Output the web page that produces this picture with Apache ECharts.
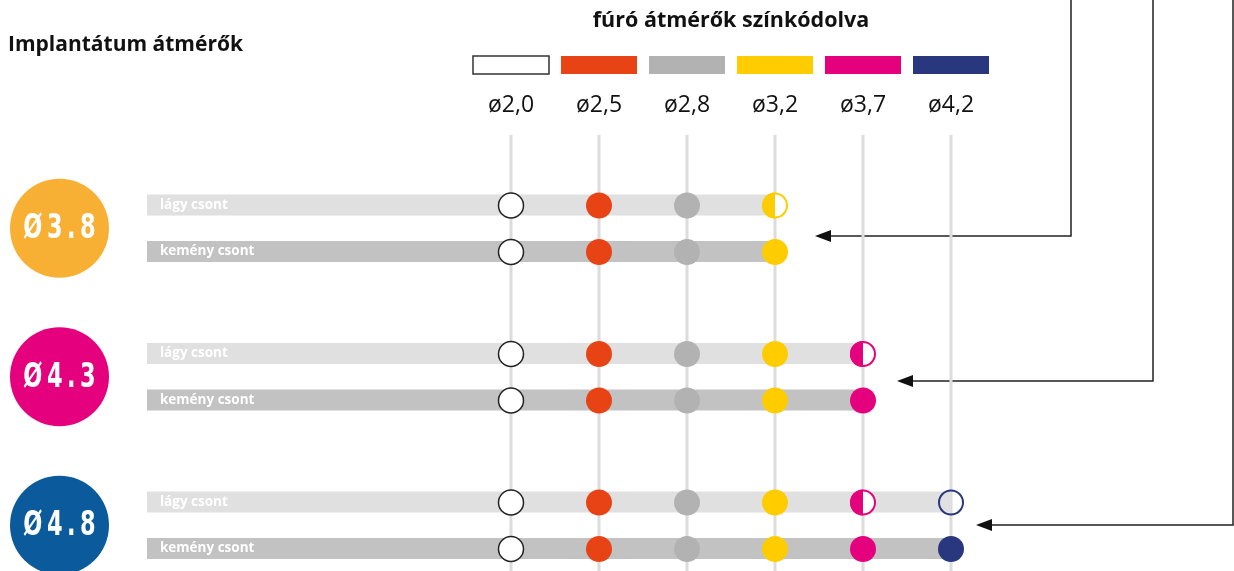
<!DOCTYPE html>
<html>
<head>
<meta charset="utf-8">
<script src="https://cdn.jsdelivr.net/npm/echarts@6/dist/echarts.min.js"></script>
<style>
  html, body { margin: 0; padding: 0; background: #fff; }
  #chart { width: 1234px; height: 571px; }
</style>
</head>
<body>
<div id="chart"></div>
<script>
// drill diameters (colour coded) and implant diameters
const drills = ['ø2,0', 'ø2,5', 'ø2,8', 'ø3,2', 'ø3,7', 'ø4,2']
const drillColors = ['#ffffff', '#E84314', '#B2B2B2', '#FFCC00', '#E5007D', '#29377F']
const implants = ['Ø3.8', 'Ø4.3', 'Ø4.8']
const implantColors = ['#F7B033', '#E5007D', '#0A5A9C']
const boneTypes = ['lágy csont', 'kemény csont']
// drill sequence per implant / bone type: f = full, h = half, r = ring only
const steps = [
  ['f', 'f', 'f', 'h'],
  ['f', 'f', 'f', 'f'],
  ['f', 'f', 'f', 'f', 'h'],
  ['f', 'f', 'f', 'f', 'f'],
  ['f', 'f', 'f', 'f', 'h', 'r'],
  ['f', 'f', 'f', 'f', 'f', 'f'],
]

// layout (grid must stay inside the canvas, echarts clamps it)
const COL0 = 511
const COL_W = 88
const ROW0 = 205
const GROUP_H = 148.5
const SUB_H = 46.5
const X_MIN = -5.75
const X_MAX = 8
const Y_MIN = -1.25
const Y_MAX = 2.4
const BAR_START = (147 - COL0) / COL_W
const BADGE_X = (59.5 - COL0) / COL_W
const subOffset = SUB_H / GROUP_H

const rowY = (g, s) => g + s * subOffset

const barData = []
const dotData = []
steps.forEach((row, r) => {
  const g = Math.floor(r / 2)
  const s = r % 2
  barData.push([row.length - 1, rowY(g, s), s])
  row.forEach((kind, i) => {
    dotData.push([i, rowY(g, s), kind])
  })
})

const chart = echarts.init(document.getElementById('chart'))

const graphic = [
  {
    type: 'text',
    left: 8,
    top: 35,
    style: {
      text: 'Implantátum átmérők',
      font: 'bold 21px "Open Sans", sans-serif',
      fill: '#111',
    },
  },
  {
    type: 'text',
    x: 731,
    y: 21,
    style: {
      text: 'fúró átmérők színkódolva',
      font: 'bold 21.5px "Open Sans", sans-serif',
      fill: '#111',
      align: 'center',
      verticalAlign: 'middle',
    },
  },
]

drills.forEach((d, i) => {
  const cx = COL0 + COL_W * i
  graphic.push({
    type: 'rect',
    shape: { x: cx - 38, y: 56, width: 76, height: 18 },
    style: {
      fill: drillColors[i],
      stroke: i === 0 ? '#333' : null,
      lineWidth: i === 0 ? 1.5 : 0,
    },
  })
  graphic.push({
    type: 'text',
    x: cx,
    y: 105,
    style: {
      text: d,
      font: '23px "Open Sans", sans-serif',
      fill: '#111',
      align: 'center',
      verticalAlign: 'middle',
    },
  })
})

// connector arrows on the right
const arrows = [
  [1071, 236, 815],
  [1153, 381, 897],
  [1233, 525, 976],
]
arrows.forEach(([vx, ay, tip]) => {
  graphic.push({
    type: 'polyline',
    shape: { points: [[vx, 0], [vx, ay], [tip + 14, ay]] },
    style: { stroke: '#222', lineWidth: 1.5, fill: null },
  })
  graphic.push({
    type: 'polygon',
    shape: { points: [[tip, ay], [tip + 16, ay - 6], [tip + 16, ay + 6]] },
    style: { fill: '#111' },
  })
})

const option = {
  animation: false,
  backgroundColor: '#fff',
  grid: {
    left: COL0 + X_MIN * COL_W,
    width: (X_MAX - X_MIN) * COL_W,
    top: ROW0 + Y_MIN * GROUP_H,
    height: (Y_MAX - Y_MIN) * GROUP_H,
  },
  xAxis: { type: 'value', min: X_MIN, max: X_MAX, show: false },
  yAxis: { type: 'value', min: Y_MIN, max: Y_MAX, inverse: true, show: false },
  graphic: graphic,
  series: [
    {
      // vertical guide lines
      type: 'custom',
      clip: false,
      z: 1,
      data: drills.map((d, i) => [i]),
      renderItem: (params, api) => {
        const x = api.coord([api.value(0), 0])[0]
        return {
          type: 'line',
          shape: { x1: x, y1: 135, x2: x, y2: 571 },
          style: { stroke: '#DCDCDC', lineWidth: 3 },
        }
      },
    },
    {
      // bone type bars
      type: 'custom',
      clip: false,
      z: 2,
      data: barData,
      renderItem: (params, api) => {
        const s = api.value(2)
        const p0 = api.coord([BAR_START, api.value(1)])
        const p1 = api.coord([api.value(0), api.value(1)])
        const h = 21
        return {
          type: 'group',
          children: [
            {
              type: 'rect',
              shape: { x: p0[0], y: p0[1] - h / 2, width: p1[0] - p0[0], height: h },
              style: { fill: s === 0 ? '#E0E0E0' : '#C2C2C2' },
            },
            {
              type: 'text',
              x: p0[0] + 13,
              y: p0[1],
              style: {
                text: boneTypes[s],
                font: 'bold 13.5px "Open Sans", sans-serif',
                fill: '#fff',
                verticalAlign: 'middle',
              },
            },
          ],
        }
      },
    },
    {
      // drill dots
      type: 'custom',
      clip: false,
      z: 3,
      data: dotData,
      renderItem: (params, api) => {
        const i = api.value(0)
        const kind = dotData[params.dataIndex][2]
        const p = api.coord([i, api.value(1)])
        const r = 12.5
        const color = drillColors[i]
        if (i === 0) {
          return {
            type: 'circle',
            shape: { cx: p[0], cy: p[1] + 0.5, r: r },
            style: { fill: '#fff', stroke: '#222', lineWidth: 1.5 },
          }
        }
        if (kind === 'f') {
          return {
            type: 'circle',
            shape: { cx: p[0], cy: p[1] + 0.5, r: r + 0.5 },
            style: { fill: color },
          }
        }
        const children = [
          {
            type: 'circle',
            shape: { cx: p[0], cy: p[1] + 0.5, r: r - 0.5 },
            style: { fill: kind === 'h' ? '#fff' : 'transparent', stroke: color, lineWidth: 2 },
          },
        ]
        if (kind === 'h') {
          children.push({
            type: 'sector',
            shape: {
              cx: p[0], cy: p[1] + 0.5, r0: 0, r: r + 0.5,
              startAngle: Math.PI / 2, endAngle: Math.PI * 1.5, clockwise: true,
            },
            style: { fill: color },
          })
        }
        return { type: 'group', children: children }
      },
    },
    {
      // implant diameter badges
      type: 'custom',
      clip: false,
      z: 4,
      data: implants.map((name, g) => [BADGE_X, rowY(g, 0.5)]),
      renderItem: (params, api) => {
        const g = params.dataIndex
        const p = api.coord([api.value(0), api.value(1)])
        return {
          type: 'group',
          children: [
            {
              type: 'circle',
              shape: { cx: p[0], cy: p[1], r: 49.5 },
              style: { fill: implantColors[g] },
            },
            {
              type: 'text',
              x: p[0],
              y: p[1] + 1,
              scaleX: 0.66,
              style: {
                text: implants[g].split('').join('\u2009'),
                font: 'bold 34px "DejaVu Sans", sans-serif',
                fill: '#fff',
                align: 'center',
                verticalAlign: 'middle',
              },
            },
          ],
        }
      },
    },
  ],
}

chart.setOption(option)
</script>
</body>
</html>
